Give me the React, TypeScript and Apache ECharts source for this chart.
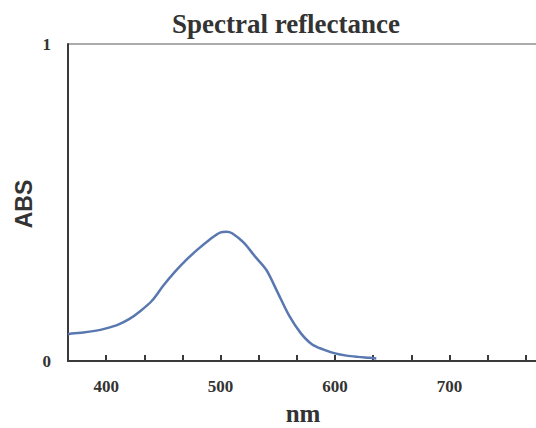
import React, { useEffect, useRef } from "react";
import * as echarts from "echarts";

const wavelengths = [366.7, 370, 380, 390, 400, 410, 420, 430, 440, 450, 460, 470, 480, 490, 500, 505, 510, 520, 530, 540, 550, 560, 570, 580, 590, 600, 610, 620, 630, 636];
const absValues = [0.084, 0.087, 0.090, 0.095, 0.103, 0.114, 0.132, 0.158, 0.19, 0.238, 0.281, 0.319, 0.352, 0.382, 0.406, 0.408, 0.403, 0.374, 0.330, 0.287, 0.215, 0.142, 0.088, 0.052, 0.036, 0.024, 0.017, 0.013, 0.010, 0.008];
const xLabelValues = [400, 500, 600, 700];

const titleText = "Spectral reflectance";
const xName = "nm";
const yName = "ABS";

export default function App() {
  const ref = useRef<HTMLDivElement>(null);
  useEffect(() => {
    document.body.style.margin = "0";
    if (!ref.current) return;
    const chart = echarts.init(ref.current, null, { renderer: "svg" });
    const serif = "'Liberation Serif', 'Times New Roman', serif";
    chart.setOption({
      animation: false,
      backgroundColor: "#ffffff",
      grid: { left: 68, top: 44, height: 317, width: 496, outerBoundsMode: "none", containLabel: false },
      xAxis: {
        type: "value",
        min: 1100 / 3,
        max: 800,
        interval: 100 / 3,
        axisLine: { show: true, onZero: false, lineStyle: { color: "#3a3a3a", width: 2 } },
        axisTick: { show: true, inside: true, length: 6, lineStyle: { color: "#3a3a3a", width: 2 } },
        splitLine: { show: false },
        axisLabel: {
          margin: 17,
          color: "#333",
          fontFamily: serif,
          fontWeight: "bold",
          fontSize: 17,
          showMinLabel: true,
          showMaxLabel: false,
          formatter: (v: number) => {
            const r = Math.round(v);
            return xLabelValues.includes(r) && Math.abs(v - r) < 0.5 ? String(r) : "";
          },
        },
      },
      yAxis: {
        type: "value",
        min: 0,
        max: 1,
        interval: 1,
        axisLine: { show: true, lineStyle: { color: "#3a3a3a", width: 2 } },
        axisTick: { show: false },
        splitLine: { show: true, lineStyle: { color: "#8f8f8f", width: 1.5 } },
        axisLabel: {
          margin: 17,
          color: "#333",
          fontFamily: serif,
          fontWeight: "bold",
          fontSize: 17,
        },
      },
      graphic: [
        {
          type: "text",
          x: 286,
          y: 24,
          style: {
            text: titleText,
            align: "center",
            verticalAlign: "middle",
            fill: "#333",
            font: "bold 27px 'Liberation Serif', 'Times New Roman', serif",
          },
        },
        {
          type: "text",
          x: 303,
          y: 413,
          style: {
            text: xName,
            align: "center",
            verticalAlign: "middle",
            fill: "#333",
            font: "bold 25px 'Liberation Serif', 'Times New Roman', serif",
          },
        },
        {
          type: "text",
          x: 24,
          y: 204,
          rotation: Math.PI / 2,
          style: {
            text: yName,
            align: "center",
            verticalAlign: "middle",
            fill: "#333",
            font: "bold 23px 'Liberation Sans', Arial, sans-serif",
          },
        },
      ],
      series: [
        {
          type: "line",
          data: wavelengths.map((w, i) => [w, absValues[i]]),
          showSymbol: false,
          smooth: 0.3,
          lineStyle: { color: "#5a78b0", width: 2.5 },
        },
      ],
    });
    return () => chart.dispose();
  }, []);
  return <div ref={ref} style={{ width: 536, height: 428 }} />;
}
